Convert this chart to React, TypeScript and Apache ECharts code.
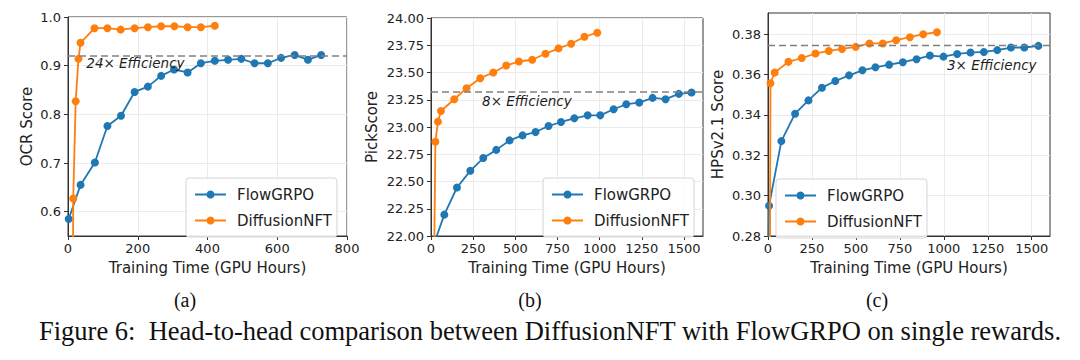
import React, { useEffect, useRef } from "react";
import * as echarts from "echarts";

// ---------- data ----------
const seriesNames = ["FlowGRPO", "DiffusionNFT"];

// (a) OCR
const ocrFlowHours = [2, 36, 77, 113, 152, 191, 229, 267, 304, 343, 381, 421, 459, 497, 535, 573, 611, 650, 688, 726];
const ocrFlowScore = [0.585, 0.655, 0.701, 0.776, 0.797, 0.846, 0.857, 0.879, 0.892, 0.886, 0.905, 0.91, 0.912, 0.914, 0.905, 0.905, 0.916, 0.922, 0.912, 0.922];
const ocrNftHours = [13, 15, 22, 30, 36, 76, 113, 151, 191, 229, 267, 305, 343, 381, 421];
const ocrNftScore = [0.3, 0.627, 0.827, 0.914, 0.947, 0.977, 0.977, 0.974, 0.977, 0.979, 0.981, 0.981, 0.979, 0.979, 0.982];
const ocrRef = 0.92;
const ocrXTicks = [0, 200, 400, 600, 800];
const ocrYTicks = [0.6, 0.7, 0.8, 0.9, 1.0];

// (b) PickScore
const pickFlowHours = [2, 79, 154, 233, 310, 387, 466, 543, 620, 697, 771, 850, 929, 1004, 1083, 1158, 1235, 1314, 1391, 1470, 1545];
const pickFlowScore = [21.86, 22.196, 22.445, 22.598, 22.715, 22.79, 22.877, 22.923, 22.954, 23.009, 23.046, 23.08, 23.107, 23.107, 23.163, 23.209, 23.224, 23.267, 23.255, 23.304, 23.316];
const pickNftHours = [10, 26, 41, 59, 138, 211, 292, 369, 446, 521, 600, 679, 756, 831, 910, 986];
const pickNftScore = [20.5, 22.865, 23.049, 23.147, 23.255, 23.356, 23.448, 23.5, 23.564, 23.601, 23.617, 23.672, 23.721, 23.764, 23.828, 23.865];
const pickRef = 23.32;
const pickXTicks = [0, 250, 500, 750, 1000, 1250, 1500];
const pickYTicks = [22, 22.25, 22.5, 22.75, 23, 23.25, 23.5, 23.75, 24];

// (c) HPSv2.1
const hpsFlowHours = [0, 6, 76, 154, 230, 307, 383, 461, 537, 611, 689, 767, 845, 921, 998, 1076, 1152, 1228, 1304, 1382, 1458, 1538];
const hpsFlowScore = [0.26, 0.295, 0.327, 0.3406, 0.3472, 0.3535, 0.3568, 0.3596, 0.3621, 0.3636, 0.3649, 0.3661, 0.3676, 0.3694, 0.3689, 0.3702, 0.3709, 0.3712, 0.3721, 0.3734, 0.3734, 0.3742];
const hpsNftHours = [10, 14, 38, 116, 192, 270, 346, 421, 499, 577, 653, 729, 807, 883, 961];
const hpsNftScore = [0.24, 0.3557, 0.361, 0.3663, 0.3682, 0.3704, 0.3717, 0.3727, 0.3737, 0.3754, 0.3754, 0.377, 0.3785, 0.38, 0.381];
const hpsRef = 0.3744;
const hpsXTicks = [0, 250, 500, 750, 1000, 1250, 1500];
const hpsYTicks = [0.28, 0.3, 0.32, 0.34, 0.36, 0.38];

const efficiencyTexts = ["24× Efficiency", "8× Efficiency", "3× Efficiency"];
const subCaptions = ["(a)", "(b)", "(c)"];
const figureCaption = "Figure 6:  Head-to-head comparison between DiffusionNFT with FlowGRPO on single rewards.";

// ---------- styling / layout ----------
const FONT = "DejaVu Sans";
const SERIF = "Liberation Serif";
const BLUE = "#1f77b4";
const ORANGE = "#ff7f0e";
const TXT = "#222";

const zip = (xs: number[], ys: number[]) => xs.map((x, i) => [x, ys[i]]);

type PanelCfg = {
  grid: { left: number; top: number; width: number; height: number };
  xRange: [number, number];
  yRange: [number, number];
  xTicks: number[];
  yTicks: number[];
  yDigits: number;
  yName: string;
  yNameGap: number;
  flow: number[][];
  nft: number[][];
  ref: number;
  effText: string;
  effPos: [number, number];
  legend: { left: number; top: number };
};

const panels: PanelCfg[] = [
  {
    grid: { left: 68, top: 17, width: 279, height: 219 },
    xRange: [0, 800],
    yRange: [0.55, 1.0],
    xTicks: ocrXTicks,
    yTicks: ocrYTicks,
    yDigits: 1,
    yName: "OCR Score",
    yNameGap: 34,
    flow: zip(ocrFlowHours, ocrFlowScore),
    nft: zip(ocrNftHours, ocrNftScore),
    ref: ocrRef,
    effText: efficiencyTexts[0],
    effPos: [51, 0.905],
    legend: { left: 186, top: 178 },
  },
  {
    grid: { left: 431, top: 18, width: 272, height: 218 },
    xRange: [0, 1613],
    yRange: [22, 24],
    xTicks: pickXTicks,
    yTicks: pickYTicks,
    yDigits: 2,
    yName: "PickScore",
    yNameGap: 52,
    flow: zip(pickFlowHours, pickFlowScore),
    nft: zip(pickNftHours, pickNftScore),
    ref: pickRef,
    effText: efficiencyTexts[1],
    effPos: [300, 23.239],
    legend: { left: 543, top: 178 },
  },
  {
    grid: { left: 768, top: 13, width: 282, height: 223 },
    xRange: [0, 1604],
    yRange: [0.28, 0.3905],
    xTicks: hpsXTicks,
    yTicks: hpsYTicks,
    yDigits: 2,
    yName: "HPSv2.1 Score",
    yNameGap: 43,
    flow: zip(hpsFlowHours, hpsFlowScore),
    nft: zip(hpsNftHours, hpsNftScore),
    ref: hpsRef,
    effText: efficiencyTexts[2],
    effPos: [1015, 0.3648],
    legend: { left: 776, top: 179 },
  },
];

const captionX = [185, 530, 877];

function buildOption() {
  const grid: any[] = [];
  const xAxis: any[] = [];
  const yAxis: any[] = [];
  const series: any[] = [];
  const legend: any[] = [];

  panels.forEach((p, i) => {
    grid.push({
      ...p.grid,
      containLabel: false,
      show: true,
      borderColor: "#333",
      borderWidth: 1,
      backgroundColor: "transparent",
    });
    xAxis.push({
      type: "value",
      gridIndex: i,
      min: p.xRange[0],
      max: p.xRange[1],
      name: "Training Time (GPU Hours)",
      nameLocation: "middle",
      nameGap: 24,
      nameTextStyle: { fontSize: 15, color: TXT, fontFamily: FONT },
      axisLine: { show: true, onZero: false, lineStyle: { color: "#333", width: 1 } },
      axisTick: { show: true, inside: false, length: 4, customValues: p.xTicks, lineStyle: { color: "#333" } },
      axisLabel: {
        customValues: p.xTicks,
        formatter: (v: number) => String(Math.round(v)),
        fontSize: 13,
        color: TXT,
        fontFamily: FONT,
        margin: 6,
      },
      splitLine: { show: true, lineStyle: { color: "#ebebeb", width: 1 } },
    });
    yAxis.push({
      type: "value",
      gridIndex: i,
      min: p.yRange[0],
      max: p.yRange[1],
      name: p.yName,
      nameLocation: "middle",
      nameGap: p.yNameGap,
      nameTextStyle: { fontSize: 15, color: TXT, fontFamily: FONT },
      axisLine: { show: true, onZero: false, lineStyle: { color: "#333", width: 1 } },
      axisTick: { show: true, inside: false, length: 4, customValues: p.yTicks, lineStyle: { color: "#333" } },
      axisLabel: {
        customValues: p.yTicks,
        formatter: (v: number) => Number(v).toFixed(p.yDigits),
        fontSize: 13,
        color: TXT,
        fontFamily: FONT,
        margin: 7,
      },
      splitLine: { show: true, lineStyle: { color: "#ebebeb", width: 1 } },
    });

    series.push({
      name: seriesNames[0],
      type: "line",
      xAxisIndex: i,
      yAxisIndex: i,
      data: p.flow,
      symbol: "circle",
      symbolSize: 8,
      clip: true,
      color: BLUE,
      itemStyle: { color: BLUE },
      lineStyle: { color: BLUE, width: 1.8 },
      z: 3,
    });
    series.push({
      name: seriesNames[1],
      type: "line",
      xAxisIndex: i,
      yAxisIndex: i,
      data: p.nft,
      symbol: "circle",
      symbolSize: 8,
      clip: true,
      color: ORANGE,
      itemStyle: { color: ORANGE },
      lineStyle: { color: ORANGE, width: 1.8 },
      z: 4,
    });
    series.push({
      name: "ref" + i,
      type: "line",
      xAxisIndex: i,
      yAxisIndex: i,
      data: [
        [p.xRange[0], p.ref],
        [p.xRange[1], p.ref],
      ],
      symbol: "none",
      silent: true,
      lineStyle: { color: "#808080", width: 1.5, type: [7, 4] },
      z: 5,
    });
    series.push({
      name: "eff" + i,
      type: "scatter",
      xAxisIndex: i,
      yAxisIndex: i,
      data: [p.effPos],
      symbolSize: 1,
      silent: true,
      itemStyle: { color: "rgba(0,0,0,0)" },
      label: {
        show: true,
        position: "right",
        distance: 0,
        formatter: p.effText,
        fontSize: 13.5,
        fontStyle: "italic",
        color: "#1e1e1e",
        opacity: 1,
        fontFamily: FONT,
      },
      z: 6,
    });

    legend.push({
      orient: "vertical",
      left: p.legend.left,
      top: p.legend.top,
      data: seriesNames,
      itemWidth: 31,
      itemHeight: 10,
      itemGap: 11,
      padding: [9, 5, 9, 8],
      backgroundColor: "rgba(255,255,255,0.85)",
      borderColor: "#d5d5d5",
      borderWidth: 1,
      borderRadius: 3,
      selectedMode: false,
      textStyle: { fontSize: 15, color: TXT, fontFamily: FONT, padding: [0, 0, 0, 6] },
      z: 10,
    });
  });

  const graphic: any[] = subCaptions.map((t, i) => ({
    type: "text",
    x: captionX[i],
    y: 300,
    style: {
      text: t,
      fill: "#111",
      font: `20px "${SERIF}"`,
      textAlign: "center",
      textVerticalAlign: "middle",
    },
  }));
  graphic.push({
    type: "text",
    x: 550,
    y: 331,
    style: {
      text: figureCaption,
      fill: "#111",
      font: `26.5px "${SERIF}"`,
      textAlign: "center",
      textVerticalAlign: "middle",
    },
  });

  return {
    animation: false,
    backgroundColor: "#ffffff",
    textStyle: { fontFamily: FONT },
    grid,
    xAxis,
    yAxis,
    series,
    legend,
    graphic,
  };
}

export default function App() {
  const ref = useRef<HTMLDivElement>(null);
  useEffect(() => {
    document.body.style.margin = "0";
    const chart = echarts.init(ref.current!, null, { renderer: "svg" });
    chart.setOption(buildOption());
    return () => chart.dispose();
  }, []);
  return (
    <div
      ref={ref}
      style={{ position: "absolute", left: 0, top: 0, width: 1080, height: 360, background: "#fff" }}
    />
  );
}
